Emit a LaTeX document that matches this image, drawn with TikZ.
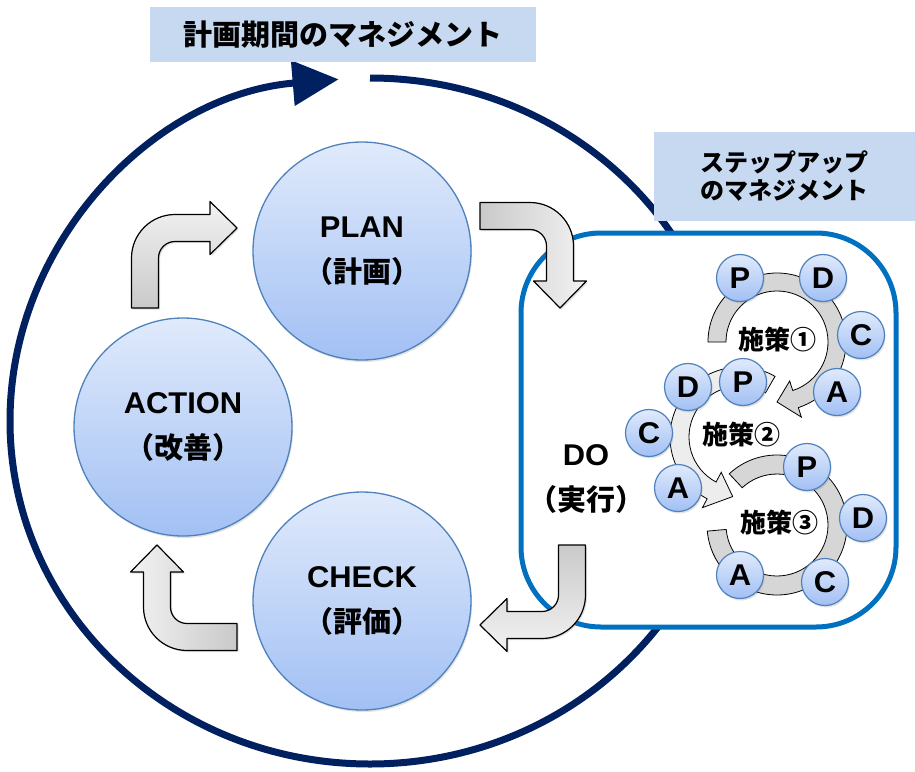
\documentclass[tikz,border=0pt]{standalone}
\usepackage{fontspec}
\usetikzlibrary{arrows.meta,shadows}
\newfontfamily\latinfont{Liberation Sans}[FakeStretch=1.03]
\newfontfamily\jpfont{Noto Sans CJK JP}
\definecolor{navy}{HTML}{002060}
\definecolor{frame}{HTML}{0070C0}
\definecolor{tag}{HTML}{C6D9F1}
\definecolor{discTop}{HTML}{E0EAFB}
\definecolor{discBot}{HTML}{A2C0F4}
\definecolor{discLine}{HTML}{4F81BD}
\tikzset{
  disc/.style={circle,draw=discLine,line width=1.3pt,top color=discTop,bottom color=discBot,inner sep=0pt,
    drop shadow={opacity=0.22,shadow xshift=1.2pt,shadow yshift=-2pt}},
  tagbox/.style={fill=tag,inner sep=0pt,align=center,text=black},
  jplab/.style={font=\jpfont\bfseries\fontsize{#1}{#1}\selectfont}
}

\begin{document}
\begin{tikzpicture}[
      x=1pt,y=-1pt,
      bigdisc/.style={disc,minimum size=218pt,align=center,font=\bfseries\fontsize{30}{45}\selectfont},
      letter/.style={disc,minimum size=47pt,line width=1.2pt,font=\latinfont\bfseries\fontsize{30}{30}\selectfont},
      ring/.style={draw=black,line width=0.8pt,fill=gray!32},
      turnarrow/.style={draw=black,line width=1.2pt,line join=round,top color=gray!10,bottom color=gray!42,
        drop shadow={opacity=0.25,shadow xshift=1.5pt,shadow yshift=-1.5pt}},
      cycleline/.style={draw=navy,line width=7pt},
      stepframe/.style={draw=frame,line width=5pt,fill=white,rounded corners=80pt}
    ]
      \useasboundingbox (0,0) rectangle (915,771);

      \draw[cycleline,-{Triangle[length=46pt,width=44pt]}] (370,78) arc[start angle=-90,end angle=265,x radius=360,y radius=343];

      \node[tagbox,minimum width=386pt,minimum height=55pt,jplab=29] (plantag) at (343,34.5) {計画期間のマネジメント};

      \draw[stepframe] (521,233) rectangle (896,627);
      \node[tagbox,minimum width=261pt,minimum height=89pt,font=\jpfont\bfseries\fontsize{24}{28}\selectfont] (steptag) at (784.5,176.5) {ステップアップ\\のマネジメント};

      \node[bigdisc] (plan) at (362,251) {{\latinfont PLAN}\\{\jpfont\fontsize{29}{45}\selectfont （計画）}};
      \node[bigdisc] (action) at (183,427) {{\latinfont ACTION}\\{\jpfont\fontsize{29}{45}\selectfont （改善）}};
      \node[bigdisc] (check) at (362,601) {{\latinfont CHECK}\\{\jpfont\fontsize{29}{45}\selectfont （評価）}};
      \node[align=center,font=\bfseries\fontsize{30}{45}\selectfont] (do) at (586,479) {{\latinfont DO}\\{\jpfont\fontsize{29}{45}\selectfont （実行）}};

      \foreach \ax/\ay/\rot in {145/308/0,480/216/-90,572/545/180,237/637/90} {
        \begin{scope}[shift={(\ax,\ay)},rotate=\rot]
          \draw[turnarrow,shading angle=\rot] (-13.5,0) -- (-13.5,-50) arc[start angle=180,end angle=270,radius=43.5]
            -- (65,-93.5) -- (65,-106.5) -- (92,-80) -- (65,-53.5) -- (65,-66.5) -- (30,-66.5)
            arc[start angle=270,end angle=180,radius=16.5] -- (13.5,0) -- cycle;
        \end{scope}
      }

      \begin{scope}[shift={(777,525)}]
        \draw[ring] (227:70) arc[start angle=227,end angle=535,radius=70] -- (535:51) arc[start angle=535,end angle=227,radius=51] -- cycle;
      \end{scope}
      \begin{scope}[shift={(740,437)}]
        \draw[ring,fill=gray!14] (300:70) arc[start angle=300,end angle=118,radius=70] -- (118:80) -- (97:60) -- (118:40)
          -- (118:51) arc[start angle=118,end angle=300,radius=51] -- cycle;
      \end{scope}
      \begin{scope}[shift={(777,342)}]
        \draw[ring] (180:69) arc[start angle=180,end angle=432,radius=69] -- (432:79) -- (450:60) -- (432:41)
          -- (432:51) arc[start angle=432,end angle=180,radius=51] -- cycle;
      \end{scope}

      \node[jplab=26] (plan1) at (777,340) {施策①};
      \node[jplab=26] (plan2) at (741,435) {施策②};
      \node[jplab=26] (plan3) at (779,523) {施策③};

      \foreach \nm/\px/\py/\tx in {p1/740/278/P,d1/823/278/D,c1/861/335/C,a1/837/392/A,
          d2/688/387/D,p2/743/382/P,c2/649/433/C,a2/678/488/A,
          p3/807/467/P,d3/863/518/D,c3/825/582/C,a3/740/575/A} {
        \node[letter] (\nm) at (\px,\py) {\tx};
      }

    \end{tikzpicture}
\end{document}
